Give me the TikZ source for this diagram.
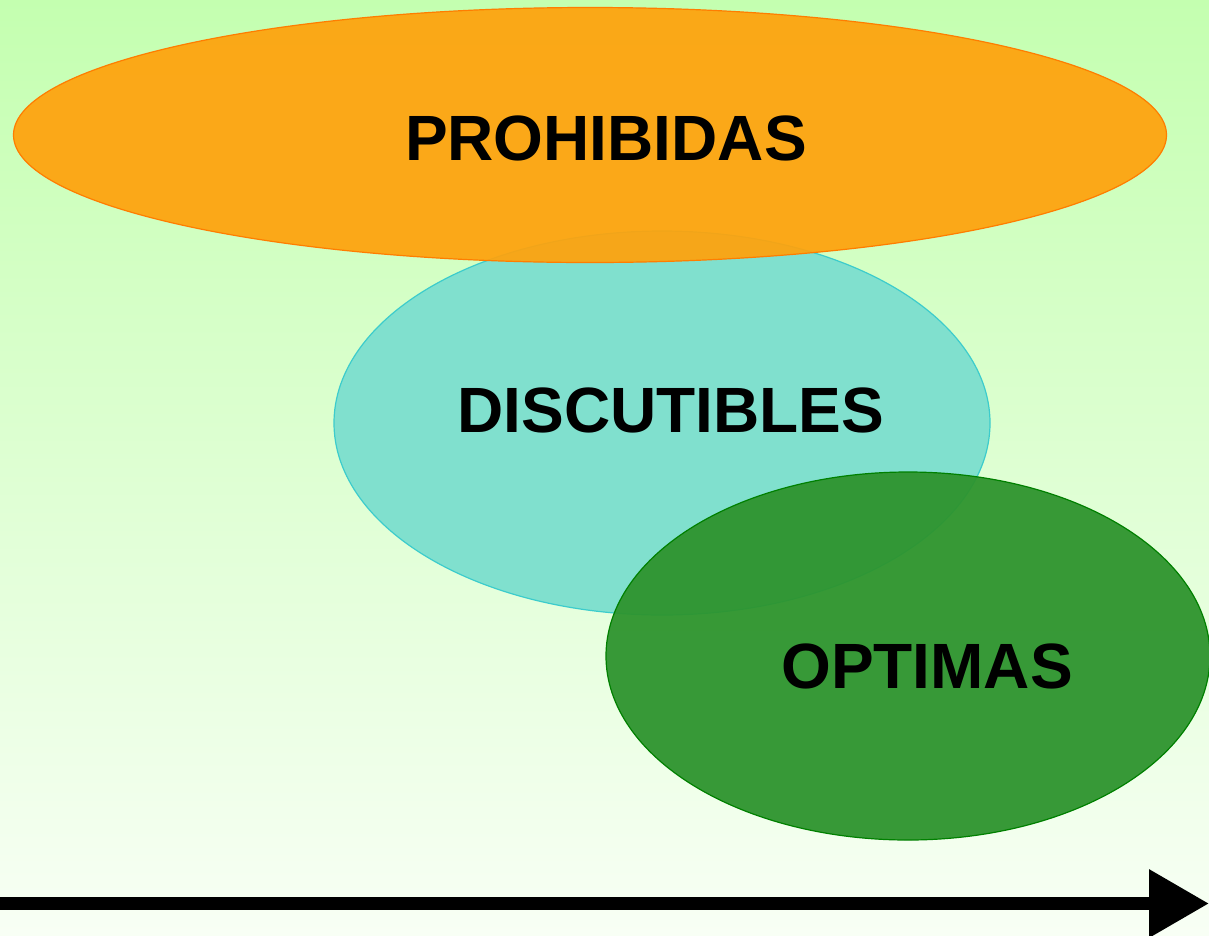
\documentclass[tikz,border=0pt]{standalone}
\usepackage{fontspec}
\setmainfont{Liberation Sans}
\usetikzlibrary{shapes.geometric,arrows.meta}
\definecolor{bgtop}{RGB}{196,255,176}
\definecolor{bgbot}{RGB}{248,255,245}
\definecolor{orfill}{RGB}{255,162,12}
\definecolor{ordraw}{RGB}{255,125,0}
\definecolor{tefill}{RGB}{128,224,206}
\definecolor{tedraw}{RGB}{60,204,204}
\definecolor{grfill}{RGB}{46,148,46}
\definecolor{grdraw}{RGB}{0,128,0}
\tikzset{
  blob/.style={ellipse, inner sep=0pt, line width=1.2pt},
  lbl/.style={font=\bfseries\fontsize{64}{70}\selectfont, text=black, inner sep=0pt}
}
\begin{document}
\begin{tikzpicture}[x=1pt,y=-1pt]
\useasboundingbox (0,0) rectangle (1209,935);
\shade[top color=bgtop, bottom color=bgbot] (0,0) rectangle (1209,935);
\node[blob, draw=tedraw, fill=tefill, minimum width=656pt, minimum height=384pt] (disc) at (662,423) {};
\node[blob, draw=ordraw, fill=orfill, fill opacity=0.93, minimum width=1153pt, minimum height=255pt] (proh) at (590,135) {};
\node[blob, draw=grdraw, fill=grfill, fill opacity=0.95, minimum width=604pt, minimum height=368pt] (opt) at (908,656) {};
\node[lbl] (tproh) at (606,138) {PROHIBIDAS};
\node[lbl] (tdisc) at (671,410) {DISCUTIBLES};
\node[lbl] (topt) at (927,666) {OPTIMAS};
\coordinate (a0) at (0,903.5);
\coordinate (a1) at (1209,903.5);
\draw[line width=13pt, -{Triangle[length=60pt,width=65pt]}] (a0) -- (a1);
\end{tikzpicture}
\end{document}
